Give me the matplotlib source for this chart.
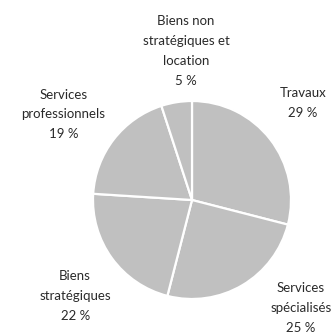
import matplotlib
matplotlib.use("Agg")
import matplotlib.pyplot as plt

# parts of total, clockwise from 12 o'clock
categories = ["Travaux", "Services\nspécialisés", "Biens\nstratégiques",
              "Services\nprofessionnels", "Biens non\nstratégiques et\nlocation"]
shares = [29, 25, 22, 19, 5]

# label centres (pie radius = 1, centre at 0,0)
label_xy = [(1.12, 0.98), (1.10, -1.09), (-1.18, -0.97), (-1.30, 0.865), (-0.06, 1.505)]

plt.rcParams['font.family'] = ['Lato', 'DejaVu Sans']

fig = plt.figure(figsize=(3.34, 3.32), dpi=100)
ax = fig.add_axes([0, 0, 1, 1])

ax.pie(shares, startangle=90, counterclock=False, radius=1.0,
       colors=["#c0c0c0"] * len(shares),
       wedgeprops=dict(edgecolor="white", linewidth=1.6))

for name, val, (x, y) in zip(categories, shares, label_xy):
    ax.text(x, y, "%s\n%d %%" % (name, val), ha="center", va="center",
            fontsize=9.5, color="#2a2a2a", linespacing=1.78)

ax.set_xlim(-192 / 99, 142 / 99)
ax.set_ylim(-132 / 99, 200 / 99)
ax.set_aspect("auto")
ax.axis("off")

fig.savefig("out.png", dpi=100)
